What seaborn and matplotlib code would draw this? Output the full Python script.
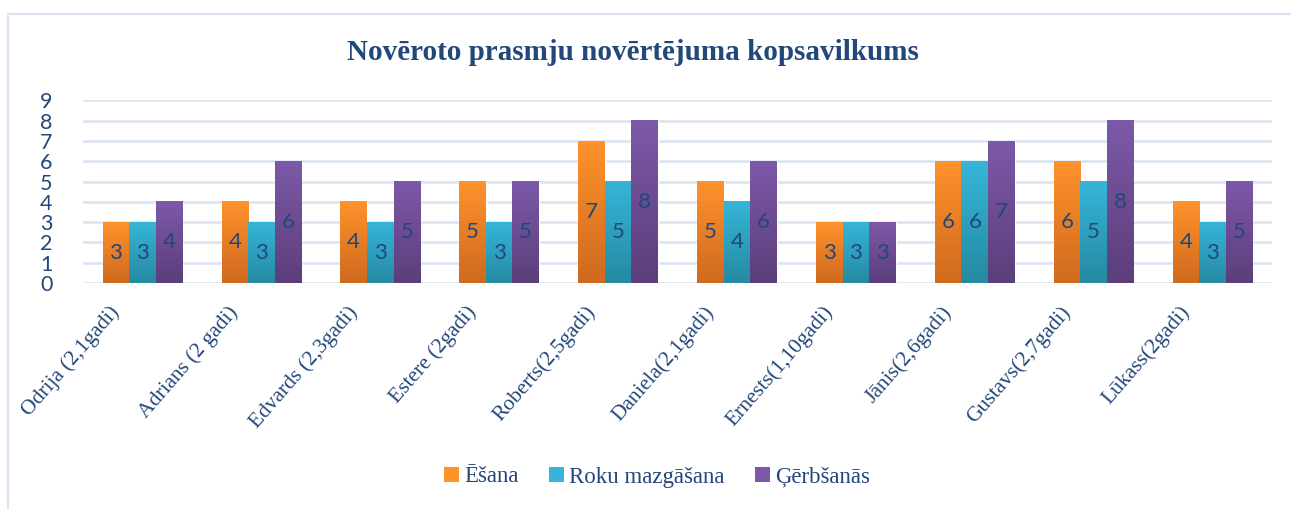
import matplotlib
matplotlib.use("Agg")
import matplotlib.pyplot as plt
import matplotlib.transforms as mtrans
from matplotlib.colors import LinearSegmentedColormap
from matplotlib.patches import Patch, Rectangle
import seaborn as sns
import numpy as np
import pandas as pd

# dati no attēla
berni = ["Odrija (2,1gadi)", "Adrians (2 gadi)", "Edvards (2,3gadi)", "Estere (2gadi)",
         "Roberts(2,5gadi)", "Daniela(2,1gadi)", "Ernests(1,10gadi)", "Jānis(2,6gadi)",
         "Gustavs(2,7gadi)", "Lūkass(2gadi)"]
prasmes = ["Ēšana", "Roku mazgāšana", "Ģērbšanās"]
esana = [3, 4, 4, 5, 7, 5, 3, 6, 6, 4]
roku_mazgasana = [3, 3, 3, 3, 5, 4, 3, 6, 5, 3]
gerbsanas = [4, 6, 5, 5, 8, 6, 3, 7, 8, 5]

df = pd.DataFrame({"berns": berni * 3,
                   "prasme": [p for p in prasmes for _ in berni],
                   "vertejums": esana + roku_mazgasana + gerbsanas})

# krāsas: augša / apakša gradientam
grad_colors = {"Ēšana": ("#FF922B", "#CF6A1F"),
               "Roku mazgāšana": ("#35B5D8", "#268AA2"),
               "Ģērbšanās": ("#7C59A8", "#5C3E7B")}
palette = {k: v[0] for k, v in grad_colors.items()}
txt_col = "#22477A"
grid_col = "#D9E3F2"

sns.set_theme(style="white")
plt.rcParams["font.family"] = ["Liberation Serif", "DejaVu Serif"]

fig = plt.figure(figsize=(12.91, 5.09), dpi=100)
ax = fig.add_axes([83 / 1291, 1 - 283 / 509, (1272 - 83) / 1291, (283 - 100.5) / 509])

sns.barplot(data=df, x="berns", y="vertejums", hue="prasme", palette=palette,
            width=0.67, gap=0, ax=ax, legend=False, errorbar=None, zorder=3)

# gradients katram stabiņam
for cont, pr in zip(ax.containers, prasmes):
    top, bot = grad_colors[pr]
    cmap = LinearSegmentedColormap.from_list(pr, [bot, top])
    for bar in cont:
        x0, w, h = bar.get_x(), bar.get_width(), bar.get_height()
        ax.imshow(np.linspace(0, 1, 64).reshape(-1, 1), cmap=cmap, origin="lower",
                  extent=[x0, x0 + w, 0, h], aspect="auto", zorder=4)
    ax.bar_label(cont, label_type="center", color=txt_col, fontsize=16,
                 family=["Lato", "DejaVu Sans"], zorder=6)

ax.set_xlim(-0.5, len(berni) - 0.5)
ax.set_ylim(0, 9)
ax.set_yticks(range(0, 10))
ax.yaxis.grid(True, color=grid_col, lw=1.8, zorder=0)
for s in ax.spines.values():
    s.set_visible(False)
ax.set_xlabel("")
ax.set_ylabel("")
ax.tick_params(axis="y", length=0, pad=22, labelsize=15.5, labelcolor=txt_col)
for lab in ax.get_yticklabels():
    lab.set_family(["Lato", "DejaVu Sans"])
ax.tick_params(axis="x", length=0, pad=0, labelsize=15.5, labelcolor=txt_col)
shift = mtrans.ScaledTranslation(-0.26, -0.26, fig.dpi_scale_trans)
for lab in ax.get_xticklabels():
    lab.set_rotation(49)
    lab.set_ha("right")
    lab.set_va("center")
    lab.set_rotation_mode("anchor")
    lab.set_transform(lab.get_transform() + shift)

fig.text(0.49, 1 - 52 / 509, "Novēroto prasmju novērtējuma kopsavilkums", ha="center",
         va="center", fontsize=21, fontweight="bold", color=txt_col)

handles = [Patch(facecolor=grad_colors[p][0], edgecolor="none") for p in prasmes]
fig.legend(handles, prasmes, loc="center", bbox_to_anchor=(0.509, 1 - 477 / 509), ncol=3,
           frameon=False, fontsize=16.5, labelcolor=txt_col, handlelength=0.65,
           handleheight=0.65, handletextpad=0.25, columnspacing=1.3)

# rāmis ap diagrammu
fig.add_artist(Rectangle((8 / 1291, -0.05), 1.2, 1 - 14 / 509 + 0.05, transform=fig.transFigure,
                         fill=False, edgecolor=grid_col, lw=1.6))

fig.savefig("out.png", dpi=100)
